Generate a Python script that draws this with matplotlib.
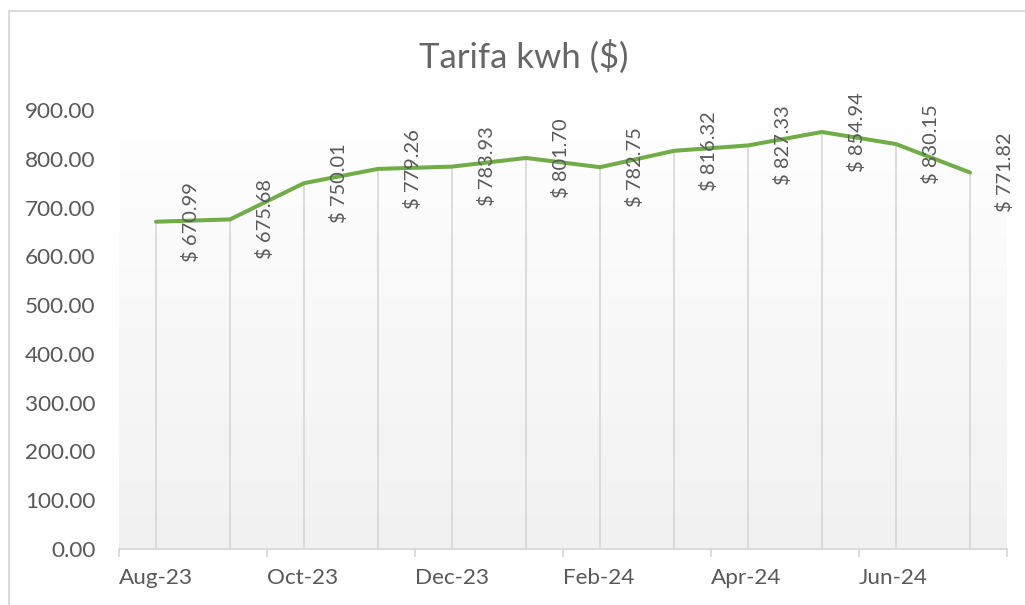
import numpy as np
import matplotlib.pyplot as plt
from matplotlib.lines import Line2D
from matplotlib.colors import LinearSegmentedColormap

# datos
meses = ['Aug-23', 'Sep-23', 'Oct-23', 'Nov-23', 'Dec-23', 'Jan-24',
         'Feb-24', 'Mar-24', 'Apr-24', 'May-24', 'Jun-24', 'Jul-24']
tarifa = [670.99, 675.68, 750.01, 779.26, 783.93, 801.70,
          782.75, 816.32, 827.33, 854.94, 830.15, 771.82]
etiquetas_x = ['Aug-23', 'Oct-23', 'Dec-23', 'Feb-24', 'Apr-24', 'Jun-24', '']
ticks_y = [0, 100, 200, 300, 400, 500, 600, 700, 800, 900]

plt.rcParams['font.family'] = ['Lato', 'DejaVu Sans']
gris = '#595959'
linea = '#d9d9d9'

fig = plt.figure(figsize=(10.25, 6.05), dpi=100)
ax = fig.add_axes([119 / 1025, 1 - 549 / 605, 888 / 1025, 439 / 605])

# punto medio de cada mes sobre un eje de meses
x = np.arange(len(meses)) + 0.5

# fondo degradado del area de trazado
cmap = LinearSegmentedColormap.from_list('fondo', ['#ffffff', '#f1f1f1'])
grad = np.linspace(0, 1, 256).reshape(-1, 1)
ax.imshow(grad, cmap=cmap, aspect='auto', extent=[0, 12, 0, 900],
          origin='upper', zorder=0)

# lineas de caida
ax.vlines(x, 0, tarifa, color=linea, linewidth=1.3, zorder=1)
ax.plot(x, tarifa, color='#70ad47', linewidth=2.9, solid_capstyle='round', zorder=3)

for xi, v in zip(x, tarifa):
    ax.annotate(f'$ {v:,.2f}', (xi, v), xytext=(25, 0), textcoords='offset points',
                rotation=90, ha='center', va='center', fontsize=14.4, color=gris, zorder=4)

ax.set_xlim(0, 12)
ax.set_ylim(0, 900)
ax.set_xticks(np.arange(0, 13, 2))
ax.set_xticklabels(etiquetas_x, ha='left')
ax.set_yticks(ticks_y)
ax.set_yticklabels([f'{t:.2f}' for t in ticks_y])

for s in ['top', 'right', 'left']:
    ax.spines[s].set_visible(False)
ax.spines['bottom'].set_color(linea)
ax.spines['bottom'].set_linewidth(1.3)
ax.tick_params(axis='x', colors=linea, labelcolor=gris, length=6, width=1.3,
               pad=8, labelsize=16.2)
ax.tick_params(axis='y', length=0, pad=17, labelcolor=gris, labelsize=16.2)

fig.text(524 / 1025, 1 - 57 / 605, 'Tarifa kwh ($)', ha='center', va='center',
         fontsize=25, color='#666666')

# borde del grafico
fig.add_artist(Line2D([9 / 1025, 1], [1 - 11 / 605, 1 - 11 / 605], color=linea, linewidth=1.3))
fig.add_artist(Line2D([9 / 1025, 9 / 1025], [0, 1 - 11 / 605], color=linea, linewidth=1.3))

fig.savefig('out.png', dpi=100)
